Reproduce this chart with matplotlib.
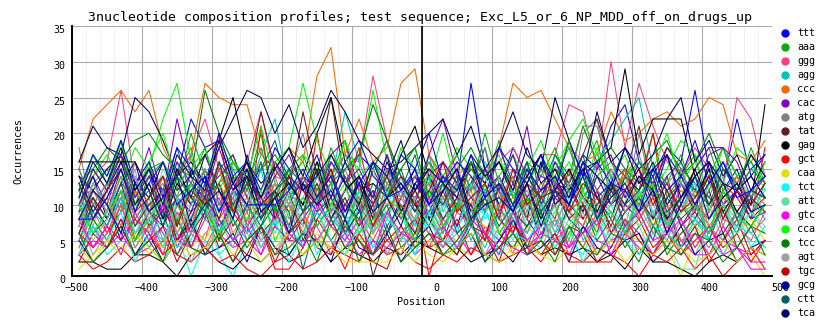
import numpy as np
import matplotlib
matplotlib.use('Agg')
from matplotlib import pyplot as plt
from matplotlib.lines import Line2D
from matplotlib.transforms import ScaledTranslation

# bin centres along the sequence (20 bp bins)
positions = list(range(-490, 491, 20))

def counts(s):
    return [int(v) for v in s.split()]

# occurrences of each trinucleotide per bin
ttt = counts("10 12 9 13 11 15 12 14 22 18 19 13 15 11 13 10 14 12 16 13 17 15 19 12 11 14 16 13 27 15 12 18 14 11 16 13 17 15 21 24 16 14 18 16 26 15 13 22 14 17")
aaa = counts("9 15 12 19 11 16 8 14 18 10 13 17 12 20 9 14 16 11 18 13 7 15 19 12 10 17 14 9 16 13 19 11 15 8 14 18 12 16 10 15 13 20 11 14 17 9 15 12 18 13")
ggg = counts("12 14 16 26 13 15 11 14 17 22 15 12 16 23 14 13 12 15 14 17 16 28 19 14 12 15 13 17 12 14 16 18 14 17 17 24 23 15 30 18 27 21 16 14 18 15 13 25 22 14")
agg = counts("8 13 15 10 14 7 12 16 10 14 9 15 11 17 22 12 9 15 13 23 16 11 8 14 12 17 9 13 10 16 12 15 11 9 17 13 10 16 19 22 25 15 12 9 14 11 16 12 8 13")
ccc = counts("15 22 24 26 23 26 18 14 17 27 25 24 24 17 15 18 16 28 32 17 22 16 18 27 29 17 13 14 16 14 18 27 25 26 22 18 16 17 23 19 20 22 23 21 22 25 24 17 16 19")
cac = counts("9 14 10 16 12 18 11 22 14 9 15 17 11 8 16 12 14 10 17 19 12 9 15 13 10 17 22 14 11 9 18 13 21 10 16 12 9 15 17 11 16 13 8 14 12 17 18 14 10 13")
atg = counts("18 8 12 7 13 9 14 8 12 15 9 11 16 10 7 14 20 11 9 15 10 7 13 9 14 10 6 13 9 15 10 14 8 16 11 9 20 22 12 10 20 11 8 15 10 14 7 12 9 11")
tat = counts("9 11 8 12 10 13 9 15 11 12 14 16 13 23 15 12 23 14 25 13 11 7 9 12 10 8 11 9 13 10 12 9 14 11 15 13 17 22 16 14 21 12 18 15 13 11 9 12 8 10")
gag = counts("14 12 15 17 13 11 16 12 14 17 19 25 16 13 15 18 14 20 25 16 12 13 11 17 21 14 10 12 15 13 16 11 14 17 13 12 15 16 18 29 17 22 22 22 14 16 11 13 10 24")
gct = counts("8 11 6 9 12 7 10 5 8 11 20 9 6 21 8 10 7 20 9 12 18 10 14 9 11 0 7 10 8 12 6 9 11 7 10 13 8 11 9 6 12 20 8 10 7 9 13 11 8 18")
caa = counts("1 3 5 4 6 3 5 7 4 6 5 8 6 4 7 5 3 6 4 3 5 6 4 7 5 3 2 4 3 5 4 6 4 3 5 7 2 4 3 6 5 2 4 0 5 3 6 4 3 0")
tct = counts("4 7 3 5 8 4 2 6 0 5 3 0 5 8 4 6 9 3 7 5 10 4 6 9 3 8 4 7 3 9 5 8 4 6 10 5 3 8 4 7 3 6 9 4 7 3 5 9 4 7")
att = counts("9 4 7 11 5 8 10 6 9 3 8 11 5 7 10 6 4 9 7 11 5 8 6 10 4 9 7 3 8 6 10 5 9 7 4 8 6 10 5 9 7 3 8 3 6 10 5 7 9 6")
gtc = counts("3 7 4 8 5 9 6 3 7 4 6 2 8 5 7 5 5 5 8 4 6 9 3 7 5 4 8 6 3 7 5 9 4 6 8 3 7 5 4 8 6 3 7 5 3 3 7 4 2 2")
cca = counts("12 14 17 13 18 15 22 27 16 13 19 15 14 12 16 18 27 19 14 17 15 26 16 12 14 11 13 18 15 12 14 17 13 16 15 19 22 17 14 13 16 12 15 19 17 14 13 18 16 12")
tcc = counts("13 15 18 16 19 20 17 15 14 26 20 16 13 15 17 14 12 16 13 15 17 24 19 14 12 16 13 15 18 14 16 13 15 12 17 14 21 16 18 15 13 17 19 14 16 20 15 13 17 14")
agt = counts("12 7 13 9 15 6 11 14 8 12 5 10 16 9 13 7 11 15 10 6 12 9 14 11 7 13 10 16 8 12 9 14 6 11 13 8 15 10 12 7 14 9 11 16 8 13 10 7 12 9")
tgc = counts("6 12 9 15 8 11 14 7 13 10 5 12 16 9 11 7 14 10 13 6 9 15 11 8 12 14 7 10 16 9 12 6 13 11 8 15 10 7 12 14 9 11 6 13 10 15 8 12 9 11")
gcg = counts("10 14 8 13 16 9 12 7 15 11 13 8 17 10 12 14 9 11 15 8 13 10 16 12 9 14 11 7 13 15 10 12 8 16 11 13 9 14 10 12 15 8 11 13 9 16 10 12 14 11")
ctt = counts("15 10 13 17 9 14 12 18 11 8 16 13 10 15 19 12 9 14 11 16 13 8 15 12 17 10 14 11 13 18 9 12 16 10 14 12 17 9 13 15 11 8 14 16 12 10 15 13 11 14")
tca = counts("16 21 18 17 25 23 19 14 16 13 18 22 26 25 20 24 18 21 26 23 19 17 15 16 18 20 22 17 21 15 18 23 17 15 25 19 14 23 16 18 15 17 22 25 16 19 14 17 12 16")
aac = counts("7 13 10 5 12 15 8 11 9 14 6 12 10 16 8 11 13 7 10 14 9 12 6 11 15 8 13 10 7 12 14 9 11 5 13 10 15 8 12 9 11 14 7 13 10 8 12 15 9 11")
aag = counts("11 17 13 19 10 15 16 12 20 14 9 16 13 18 11 15 17 12 14 19 10 16 13 15 18 11 14 17 12 20 13 10 16 14 18 12 15 19 11 14 16 13 17 10 15 18 12 14 16 13")
aat = counts("4 9 6 11 5 8 3 10 7 5 12 6 9 4 8 11 6 7 3 10 8 5 9 12 6 4 8 10 7 5 9 3 11 6 8 4 10 7 9 5 12 6 8 4 10 7 5 9 6 8")
aca = counts("12 6 9 14 7 11 5 10 13 8 6 12 9 15 7 10 4 11 13 8 9 6 12 10 7 14 8 11 5 9 13 7 10 12 6 9 11 8 14 6 10 12 7 9 13 5 10 8 11 9")
acc = counts("10 12 9 11 13 10 10 10 11 10 13 9 12 10 11 9 13 10 10 10 10 12 10 11 12 9 11 13 10 12 9 11 10 13 12 9 11 10 12 14 10 11 9 12 10 13 11 9 12 10")
acg = counts("5 10 7 12 6 9 11 4 8 13 7 10 6 9 12 5 8 11 7 10 13 6 9 5 11 8 12 7 10 6 9 13 8 5 11 9 7 12 6 10 8 11 14 7 9 6 10 12 8 9")
act = counts("7 12 9 14 8 11 13 6 10 15 9 12 7 11 14 8 10 13 9 6 12 10 15 8 11 13 7 10 14 9 12 8 11 15 10 13 21 21 14 9 12 7 11 13 10 8 12 14 9 11")
aga = counts("10 6 8 12 5 9 7 11 4 9 13 7 10 6 8 12 5 9 11 7 10 0 6 9 12 8 5 10 7 13 8 6 11 9 5 10 8 12 6 9 11 7 10 4 8 12 6 9 7 10")
agc = counts("2 2 1 1 3 3 2 0 3 4 2 1 3 2 4 2 3 5 2 4 3 2 4 3 5 4 3 4 2 3 4 2 5 3 4 3 4 2 3 1 4 2 2 1 0 2 3 2 4 3")
ata = counts("3 1 2 4 2 3 5 3 2 4 2 3 1 0 2 3 1 2 4 3 2 5 3 4 2 1 3 2 4 3 2 3 4 2 5 3 2 4 3 2 0 3 2 4 1 3 0 2 4 1")
atc = counts("6 8 5 7 9 6 4 8 7 5 9 6 8 7 5 6 8 4 7 3 6 8 5 7 4 9 6 5 8 7 6 3 7 5 8 6 4 7 9 6 5 8 4 6 7 5 3 6 8 5")
cag = counts("11 6 9 13 7 10 14 8 5 11 9 12 6 10 8 13 7 11 9 5 12 8 10 14 7 9 11 6 13 8 10 12 7 9 5 11 14 8 10 6 12 9 7 11 13 8 10 6 9 12")
cat = counts("8 13 10 6 12 9 15 11 7 13 10 8 14 11 6 12 9 13 10 7 11 15 8 12 10 6 13 9 11 14 8 10 12 7 9 13 11 6 10 14 8 12 9 11 7 13 10 8 12 9")
ccg = counts("3 5 4 6 3 4 7 5 4 3 6 4 5 3 7 5 5 5 4 6 3 5 4 6 3 5 7 4 6 3 5 4 3 6 5 4 7 3 5 6 4 3 5 4 6 3 5 4 3 5")
cct = counts("12 17 14 19 11 16 20 13 15 18 12 16 14 21 13 10 17 15 12 19 14 16 11 18 15 13 20 12 16 14 17 11 15 19 13 16 12 18 14 17 11 15 20 13 16 12 18 14 11 16")
cga = counts("3 8 5 10 4 7 9 3 6 11 5 8 4 7 10 3 6 9 5 8 2 7 10 4 6 9 5 3 8 11 6 4 7 9 3 6 10 5 8 4 7 9 3 6 8 5 10 4 7 6")
cgc = counts("8 3 6 10 4 7 5 9 2 6 8 4 10 6 3 7 9 5 4 8 6 10 3 7 5 9 4 6 8 3 7 10 5 4 8 6 9 3 7 5 10 6 4 8 3 7 5 9 6 4")
cgg = counts("2 6 4 8 3 5 7 2 6 9 4 5 3 7 2 6 8 4 3 7 5 2 1 6 8 4 5 3 7 6 2 8 4 5 3 7 6 2 4 8 5 3 6 4 7 2 5 8 3 5")
cgt = counts("5 2 4 7 3 6 2 5 8 3 4 6 2 7 4 3 6 5 2 8 4 3 6 2 5 7 3 4 6 2 5 8 3 4 6 2 7 4 3 5 6 2 4 7 3 5 6 2 4 5")
cta = counts("6 10 7 12 5 9 8 11 6 13 8 5 10 7 12 9 1 8 11 6 9 12 7 10 5 9 13 6 8 11 7 10 4 9 12 8 6 10 13 7 9 5 11 8 10 6 12 9 7 10")
ctc = counts("14 9 12 16 10 13 8 15 11 17 12 9 14 11 16 13 10 15 8 12 14 11 17 9 13 15 10 12 16 11 14 9 13 17 10 12 15 11 8 14 12 16 10 13 11 15 9 12 14 11")
ctg = counts("12 17 14 19 13 16 11 18 15 13 20 14 16 12 18 15 13 17 11 16 19 14 12 17 15 20 13 16 14 11 18 15 13 17 12 19 14 16 13 18 15 11 17 14 19 13 16 12 15 17")
gaa = counts("10 15 12 17 9 14 16 11 13 18 10 14 12 16 9 15 13 11 17 14 10 16 12 15 18 11 13 9 16 14 12 17 10 15 13 19 11 14 16 12 10 15 13 17 11 14 18 12 15 13")
gac = counts("8 4 6 10 5 7 3 9 6 4 8 11 5 7 3 6 9 5 8 4 7 10 5 3 8 6 4 9 7 5 10 6 3 8 5 7 4 9 6 8 3 7 10 5 6 4 8 7 5 9")
gat = counts("5 9 7 11 6 8 4 10 7 12 6 8 5 9 11 7 4 10 8 6 12 7 9 5 8 10 6 11 7 4 9 8 6 10 7 12 5 8 9 6 11 7 5 10 8 6 9 7 11 8")
gca = counts("13 8 11 6 12 9 14 10 7 12 15 9 11 8 13 10 6 12 14 9 11 7 13 10 8 15 11 9 12 6 10 14 8 11 13 9 7 12 10 15 8 11 13 9 12 7 10 14 9 11")
gcc = counts("10 15 12 17 11 14 9 16 13 11 18 12 15 10 14 17 12 9 16 13 15 11 17 12 14 10 16 13 8 15 12 17 11 14 13 10 16 12 15 11 14 13 17 10 15 18 18 16 11 14")
gga = counts("15 10 13 9 16 12 14 11 17 10 13 15 9 12 16 11 14 10 13 17 12 9 15 11 14 16 10 13 12 18 11 14 9 15 13 11 16 12 10 14 17 11 13 15 9 12 16 13 11 14")
ggc = counts("6 11 8 13 7 10 12 5 9 11 8 14 7 10 12 6 9 13 8 11 7 10 14 9 6 12 8 11 10 5 13 9 7 11 12 8 10 6 13 9 11 8 12 7 10 14 9 6 11 9")
ggt = counts("16 16 16 16 16 12 7 13 10 15 9 12 14 8 11 13 10 16 9 12 14 8 11 13 10 7 12 15 9 11 14 10 13 8 12 15 11 9 13 10 14 12 8 11 15 10 13 9 12 11")
gta = counts("6 4 7 5 8 6 3 5 7 4 6 2 5 7 1 1 4 8 5 1 6 3 5 7 4 6 5 8 3 6 4 7 5 3 6 2 2 2 2 6 8 4 6 3 5 7 4 6 2 5")
gtg = counts("4 2 5 3 6 4 2 5 3 4 6 3 5 2 4 6 3 5 4 2 2 2 2 4 2 5 3 4 6 3 2 4 5 3 2 4 6 3 5 2 4 3 5 4 2 3 5 2 4 3")
gtt = counts("3 7 5 9 2 6 8 4 6 10 3 5 7 4 8 2 6 9 5 3 7 4 8 6 3 9 5 4 7 10 3 6 5 8 4 7 2 6 9 5 3 7 6 4 8 5 3 7 6 4")
taa = counts("10 5 8 12 6 9 4 11 7 10 6 9 13 5 8 11 7 4 10 8 12 6 9 5 11 7 10 4 9 12 6 8 10 5 9 7 11 6 8 12 7 9 5 1 1 8 10 6 9 7")
tac = counts("8 4 7 3 9 5 10 6 4 8 11 5 7 3 9 6 4 10 7 5 8 3 9 6 5 11 7 4 8 6 3 9 5 7 10 4 6 8 3 7 9 5 6 8 4 7 3 4 1 1")
tag = counts("10 6 9 12 5 8 11 7 13 9 6 10 8 12 5 9 11 7 10 13 6 8 11 9 5 12 7 10 8 13 6 9 11 7 10 5 12 8 9 6 11 13 7 9 10 6 12 8 7 10")
tcg = counts("6 2 4 7 3 5 2 8 4 3 6 2 5 7 3 4 6 2 8 4 5 3 7 2 4 6 3 5 8 2 4 6 3 5 2 7 4 3 6 5 2 7 4 3 6 5 2 4 7 3")
tga = counts("7 13 9 11 14 8 12 6 10 15 9 12 7 11 13 10 8 14 9 12 10 6 13 11 8 15 10 12 7 11 14 9 12 10 6 13 11 8 15 9 12 10 7 13 11 9 14 8 12 10")
tgg = counts("13 8 12 15 9 11 14 7 12 10 16 9 13 11 8 14 12 10 15 9 13 7 11 14 10 12 16 9 11 13 8 15 10 12 14 9 13 11 7 12 15 10 13 9 11 14 8 12 10 13")
tgt = counts("8 12 10 6 13 9 11 14 7 10 12 8 15 9 11 6 13 10 12 8 14 9 11 7 13 10 12 15 8 10 11 9 13 7 12 10 14 8 11 13 9 12 6 10 14 8 11 13 9 10")
tta = counts("13 8 11 15 10 12 7 14 11 9 16 10 13 8 12 15 9 11 14 10 8 13 11 15 9 12 10 14 7 11 13 10 16 9 12 11 14 8 13 10 12 15 9 11 14 10 13 8 12 11")
ttc = counts("11 16 13 18 12 15 10 17 14 12 19 13 16 11 15 18 12 14 17 13 10 16 14 19 12 15 13 11 17 14 16 12 18 13 15 11 16 14 12 18 13 15 17 11 14 16 13 12 17 14")
ttg = counts("8 8 11 15 9 13 16 10 12 14 9 13 10 10 10 12 15 11 14 9 13 16 11 12 15 10 14 12 17 11 13 9 15 12 14 10 16 11 13 12 9 15 12 14 10 13 16 11 12 14")

names = ['ttt', 'aaa', 'ggg', 'agg', 'ccc', 'cac', 'atg', 'tat', 'gag', 'gct',
         'caa', 'tct', 'att', 'gtc', 'cca', 'tcc', 'agt', 'tgc', 'gcg', 'ctt',
         'tca', 'aac', 'aag', 'aat', 'aca', 'acc', 'acg', 'act', 'aga', 'agc',
         'ata', 'atc', 'cag', 'cat', 'ccg', 'cct', 'cga', 'cgc', 'cgg', 'cgt',
         'cta', 'ctc', 'ctg', 'gaa', 'gac', 'gat', 'gca', 'gcc', 'gga', 'ggc',
         'ggt', 'gta', 'gtg', 'gtt', 'taa', 'tac', 'tag', 'tcg', 'tga', 'tgg',
         'tgt', 'tta', 'ttc', 'ttg']
profiles = [globals()[n] for n in names]

# colour cycle, repeated over the 64 profiles
palette = ['#0000ff', '#10a810', '#ff4080', '#00c0c0', '#ff6600', '#8000c0',
           '#808080', '#602020', '#000000', '#ff0000', '#e0e000', '#00ffff',
           '#60e0a0', '#ff00ff', '#00ff00', '#008000', '#a0a0a0', '#c00000',
           '#000090', '#006060', '#000060']
n_legend = 21

W, H = 840, 328
fig = plt.figure(figsize=(W / 100, H / 100), dpi=100)
ax = fig.add_axes([72 / W, (H - 276.3) / H, 700 / W, 250.3 / H])

for i, (name, vals) in enumerate(zip(names, profiles)):
    assert len(vals) == len(positions), name
    ax.plot(positions, vals, color=palette[i % len(palette)], lw=0.75,
            antialiased=True, label=name)

ax.axvline(0, color='black', lw=1.2, zorder=5)

ax.set_xlim(-500, 500)
ax.set_ylim(0, 35)
ax.set_xticks(np.arange(-500, 501, 100))
ax.set_xticks(np.arange(-500, 501, 20), minor=True)
ax.set_yticks(np.arange(0, 36, 5))
ax.grid(True, which='major', color='#aaaaaa', lw=0.8, zorder=0)
ax.grid(True, which='minor', axis='x', color='#f0f0f0', lw=0.7, zorder=0)
ax.set_axisbelow(True)

for side in ['top', 'right']:
    ax.spines[side].set_visible(False)
for side in ['left', 'bottom']:
    ax.spines[side].set_linewidth(1.4)
    ax.spines[side].set_color('black')

mono = 'DejaVu Sans Mono'
ax.tick_params(axis='both', which='both', length=0, labelsize=7.2)
ax.tick_params(axis='x', pad=5)
ax.tick_params(axis='y', pad=5)
for lab in ax.get_xticklabels():
    lab.set_family(mono)
    lab.set_ha('right')
    lab.set_transform(lab.get_transform() + ScaledTranslation(0.17, 0, fig.dpi_scale_trans))
for lab in ax.get_yticklabels():
    lab.set_family(mono)
    lab.set_transform(lab.get_transform() + ScaledTranslation(0, -0.03, fig.dpi_scale_trans))

fig.text(420 / W, 1 - 18 / H,
         '3nucleotide composition profiles; test sequence; Exc_L5_or_6_NP_MDD_off_on_drugs_up',
         ha='center', va='center', family=mono, fontsize=9.5)
fig.text(421 / W, 1 - 302 / H, 'Position', ha='center', va='center', family=mono, fontsize=7.2)
fig.text(18 / W, 1 - 151 / H, 'Occurrences', ha='center', va='center', rotation=90,
         family=mono, fontsize=7.2)

# legend column, only the first colour cycle fits
for i in range(n_legend):
    y = 1 - (33.3 + 14 * i) / H
    fig.add_artist(Line2D([784.5 / W], [y], marker='o', ms=5, color=palette[i],
                          transform=fig.transFigure))
    fig.text(797 / W, y, names[i], ha='left', va='center', family=mono, fontsize=7.2)

fig.savefig('out.png', dpi=100)
